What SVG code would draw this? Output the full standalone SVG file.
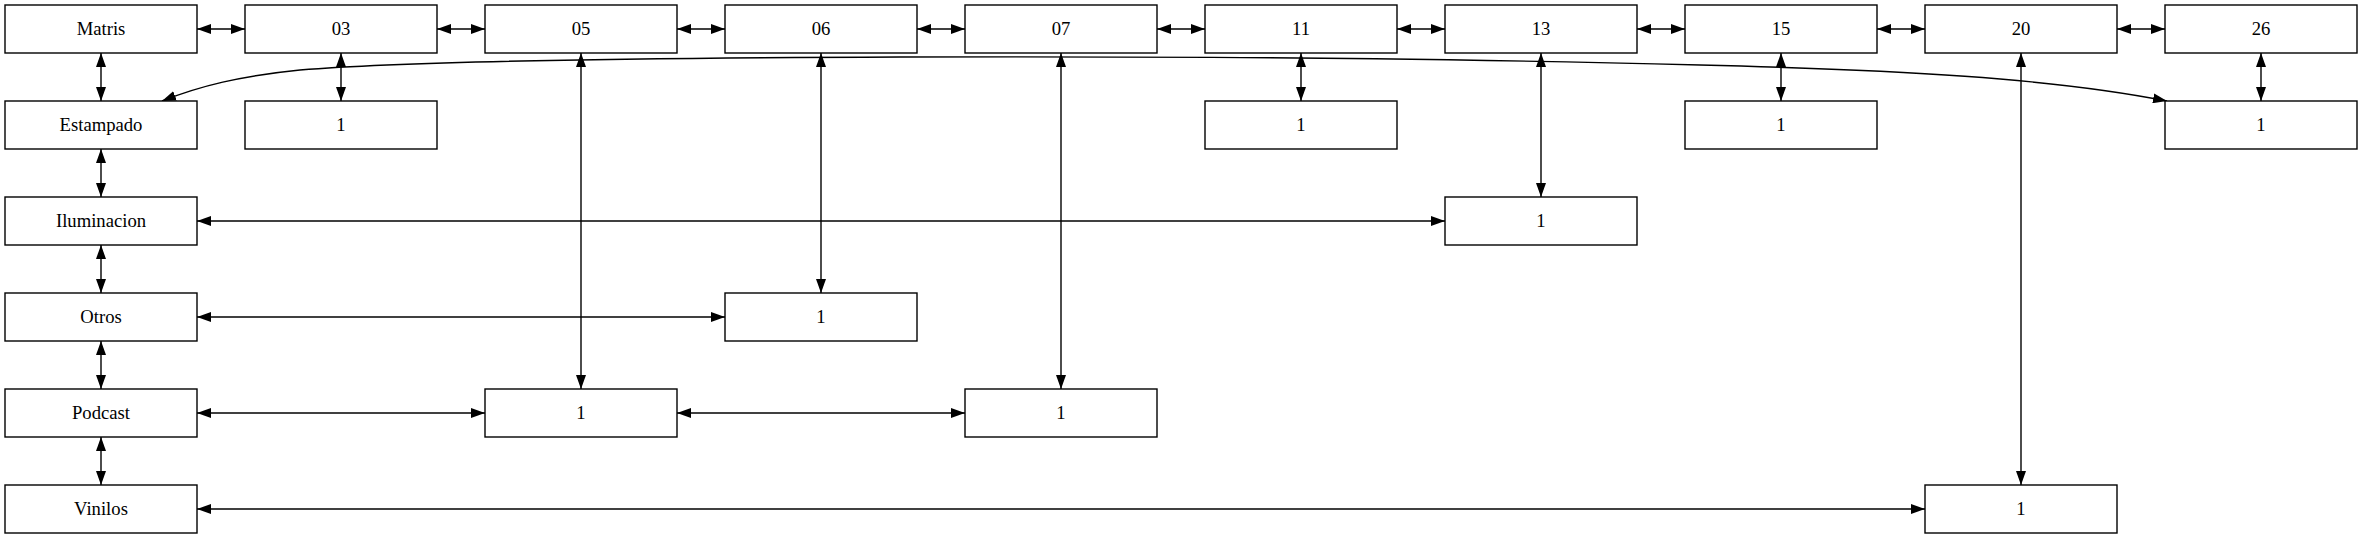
<svg xmlns="http://www.w3.org/2000/svg" width="2363" height="539" viewBox="0 0 2363 539">
<defs>
<marker id="ah" viewBox="0 0 14 10" refX="14" refY="5" markerWidth="14" markerHeight="10" markerUnits="userSpaceOnUse" orient="auto-start-reverse">
<path d="M0,0 L14,5 L0,10 z" fill="#000"/>
</marker>
<style>
.n rect{fill:#fff;stroke:#000;stroke-width:1.4}
.n text{font-family:"Liberation Serif","Times New Roman",serif;font-size:18.67px;text-anchor:middle;fill:#000}
#edges path{fill:none;stroke:#000;stroke-width:1.4;marker-start:url(#ah);marker-end:url(#ah)}
</style>
</defs>
<rect width="2363" height="539" fill="#fff"/>
<g id="edges">
<path d="M197,29 H245"/>
<path d="M437,29 H485"/>
<path d="M677,29 H725"/>
<path d="M917,29 H965"/>
<path d="M1157,29 H1205"/>
<path d="M1397,29 H1445"/>
<path d="M1637,29 H1685"/>
<path d="M1877,29 H1925"/>
<path d="M2117,29 H2165"/>
<path d="M101,53 V101"/>
<path d="M101,149 V197"/>
<path d="M101,245 V293"/>
<path d="M101,341 V389"/>
<path d="M101,437 V485"/>
<path d="M341,53 V101"/>
<path d="M1301,53 V101"/>
<path d="M1781,53 V101"/>
<path d="M2261,53 V101"/>
<path d="M1541,53 V197"/>
<path d="M197,221 H1445"/>
<path d="M821,53 V293"/>
<path d="M197,317 H725"/>
<path d="M581,53 V389"/>
<path d="M197,413 H485"/>
<path d="M677,413 H965"/>
<path d="M1061,53 V389"/>
<path d="M2021,53 V485"/>
<path d="M197,509 H1925"/>
<path d="M162,101 C200,86 240,76 300,70 C400,62 600,58 900,57 C1300,56 1500,60 1700,65 C1900,70 2050,78 2167,101"/>
</g>
<g id="n-matris" class="n"><rect x="5" y="5" width="192" height="48"/><text x="101" y="34.5">Matris</text></g>
<g id="n-03" class="n"><rect x="245" y="5" width="192" height="48"/><text x="341" y="34.5">03</text></g>
<g id="n-05" class="n"><rect x="485" y="5" width="192" height="48"/><text x="581" y="34.5">05</text></g>
<g id="n-06" class="n"><rect x="725" y="5" width="192" height="48"/><text x="821" y="34.5">06</text></g>
<g id="n-07" class="n"><rect x="965" y="5" width="192" height="48"/><text x="1061" y="34.5">07</text></g>
<g id="n-11" class="n"><rect x="1205" y="5" width="192" height="48"/><text x="1301" y="34.5">11</text></g>
<g id="n-13" class="n"><rect x="1445" y="5" width="192" height="48"/><text x="1541" y="34.5">13</text></g>
<g id="n-15" class="n"><rect x="1685" y="5" width="192" height="48"/><text x="1781" y="34.5">15</text></g>
<g id="n-20" class="n"><rect x="1925" y="5" width="192" height="48"/><text x="2021" y="34.5">20</text></g>
<g id="n-26" class="n"><rect x="2165" y="5" width="192" height="48"/><text x="2261" y="34.5">26</text></g>
<g id="n-estampado" class="n"><rect x="5" y="101" width="192" height="48"/><text x="101" y="130.5">Estampado</text></g>
<g id="n-03-1" class="n"><rect x="245" y="101" width="192" height="48"/><text x="341" y="130.5">1</text></g>
<g id="n-11-1" class="n"><rect x="1205" y="101" width="192" height="48"/><text x="1301" y="130.5">1</text></g>
<g id="n-15-1" class="n"><rect x="1685" y="101" width="192" height="48"/><text x="1781" y="130.5">1</text></g>
<g id="n-26-1" class="n"><rect x="2165" y="101" width="192" height="48"/><text x="2261" y="130.5">1</text></g>
<g id="n-iluminacion" class="n"><rect x="5" y="197" width="192" height="48"/><text x="101" y="226.5">Iluminacion</text></g>
<g id="n-13-1" class="n"><rect x="1445" y="197" width="192" height="48"/><text x="1541" y="226.5">1</text></g>
<g id="n-otros" class="n"><rect x="5" y="293" width="192" height="48"/><text x="101" y="322.5">Otros</text></g>
<g id="n-06-1" class="n"><rect x="725" y="293" width="192" height="48"/><text x="821" y="322.5">1</text></g>
<g id="n-podcast" class="n"><rect x="5" y="389" width="192" height="48"/><text x="101" y="418.5">Podcast</text></g>
<g id="n-05-1" class="n"><rect x="485" y="389" width="192" height="48"/><text x="581" y="418.5">1</text></g>
<g id="n-07-1" class="n"><rect x="965" y="389" width="192" height="48"/><text x="1061" y="418.5">1</text></g>
<g id="n-vinilos" class="n"><rect x="5" y="485" width="192" height="48"/><text x="101" y="514.5">Vinilos</text></g>
<g id="n-20-1" class="n"><rect x="1925" y="485" width="192" height="48"/><text x="2021" y="514.5">1</text></g>
</svg>
